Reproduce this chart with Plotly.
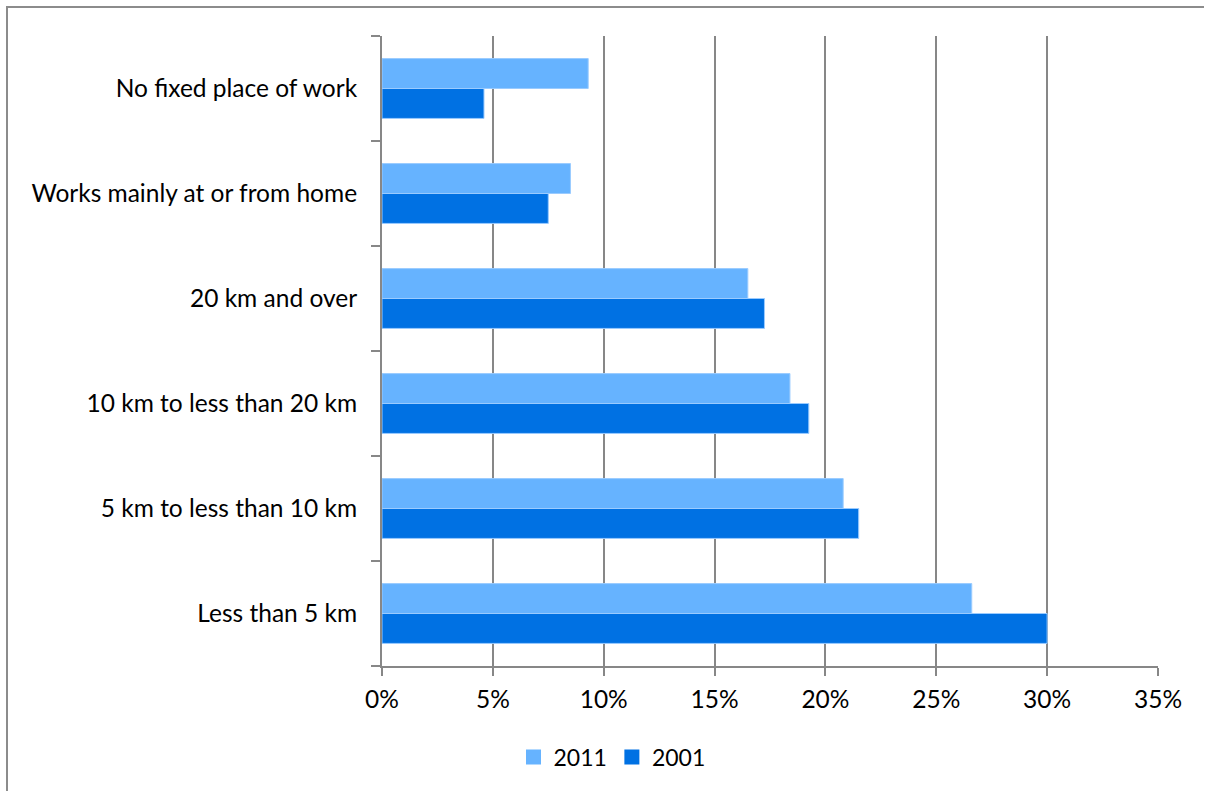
import plotly.graph_objects as go

# Share of workers by distance travelled to work
categories = [
    "Less than 5 km",
    "5 km to less than 10 km",
    "10 km to less than 20 km",
    "20 km and over",
    "Works mainly at or from home",
    "No fixed place of work",
]
share_2011 = [26.6, 20.8, 18.4, 16.5, 8.5, 9.3]
share_2001 = [30.0, 21.5, 19.25, 17.25, 7.5, 4.6]
x_ticks = [0, 5, 10, 15, 20, 25, 30, 35]
x_tick_labels = ["0%", "5%", "10%", "15%", "20%", "25%", "30%", "35%"]

LIGHT = "#66B3FF"
DARK = "#0071E3"
EDGE = "#9ACBFF"
AXIS = "#878787"
FONT = "Lato"
FSIZE = 24.5

W, H = 1205, 792
L, R, T, B = 382, 47, 36, 126
pw, ph = W - L - R, H - T - B

fig = go.Figure()
fig.add_trace(go.Bar(
    y=categories, x=[v / 100 for v in share_2001], name="2001", orientation="h",
    marker=dict(color=DARK, line=dict(color=EDGE, width=1)), showlegend=False,
))
fig.add_trace(go.Bar(
    y=categories, x=[v / 100 for v in share_2011], name="2011", orientation="h",
    marker=dict(color=LIGHT, line=dict(color=EDGE, width=1)), showlegend=False,
))

# legend entries drawn as square keys
for name, color in [("2011", LIGHT), ("2001", DARK)]:
    fig.add_trace(go.Scatter(
        x=[None], y=[None], mode="markers", name=name,
        marker=dict(symbol="square", size=15, color=color, line=dict(width=0)),
    ))

# outer chart frame: one open path along the left and top edges
fx0 = (7 - L) / pw
fy1 = (H - 7 - B) / ph
fx1 = (W - 1 - L) / pw
fy0 = -(B - 1) / ph
fig.add_shape(
    type="path", xref="paper", yref="paper",
    path=f"M {fx0},{fy0} L {fx0},{fy1} L {fx1},{fy1}",
    line=dict(color="#8C8C8C", width=2), fillcolor="rgba(0,0,0,0)",
)

fig.update_layout(
    width=W, height=H,
    margin=dict(l=L, r=R, t=T, b=B, pad=0),
    paper_bgcolor="white", plot_bgcolor="white",
    barmode="group", bargap=0.43, bargroupgap=0,
    font=dict(family=FONT, size=FSIZE, color="#000000"),
    showlegend=True,
    legend=dict(
        orientation="h",
        x=(612 - L) / pw, xanchor="center", y=(H - B - 757) / ph, yanchor="middle",
        font=dict(size=23), itemwidth=30, tracegroupgap=0,
        bgcolor="rgba(0,0,0,0)",
    ),
    xaxis=dict(
        range=[0, 0.35], tickvals=[v / 100 for v in x_ticks], ticktext=x_tick_labels,
        showgrid=True, gridcolor=AXIS, gridwidth=2,
        showline=True, linecolor=AXIS, linewidth=2,
        ticks="outside", ticklen=8, tickcolor=AXIS, tickwidth=2,
        ticklabelstandoff=3, zeroline=False, fixedrange=True,
    ),
    yaxis=dict(
        showline=True, linecolor=AXIS, linewidth=2,
        ticks="outside", ticklen=9, tickcolor=AXIS, tickwidth=2,
        tickson="boundaries", showgrid=False, ticklabelstandoff=18,
        fixedrange=True,
    ),
)

fig.write_html("out.html", config={"displayModeBar": False})
